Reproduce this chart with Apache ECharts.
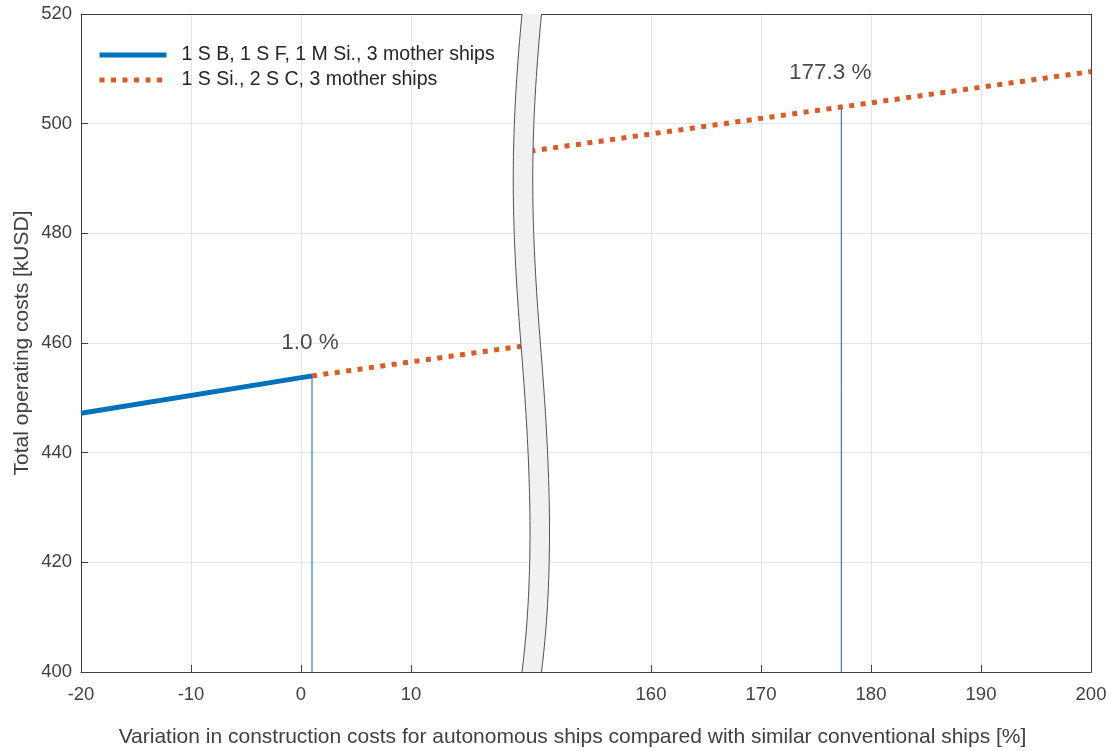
<!DOCTYPE html>
<html>
<head>
<meta charset="utf-8">
<script src="https://cdn.jsdelivr.net/npm/echarts@6/dist/echarts.min.js"></script>
<style>html,body{margin:0;padding:0;background:#fff;}#c{width:1111px;height:751px;}</style>
</head>
<body>
<div id="c"></div>
<script>
// ---- data ----
var seriesNames = ['1 S B, 1 S F, 1 M Si., 3 mother ships', '1 S Si., 2 S C, 3 mother ships'];
var blueX = [-20, 1.0];
var blueY = [447.2, 454.0];
var orangeLeftX = [1.0, 20];
var orangeLeftY = [454.0, 459.4];
var orangeRightX = [148, 200];
var orangeRightY = [494.7, 509.5];
var markX = [1.0, 177.3];
var markY = [454.0, 503.0];
var xTicksLeft = [-20, -10, 0, 10];
var xTicksRight = [160, 170, 180, 190, 200];
var yMin = 400, yMax = 520, yStep = 20;
var xLeftRange = [-20, 20];
var xRightRange = [148, 200];

function pairs(xs, ys) { return xs.map(function (x, i) { return [x, ys[i]]; }); }

var FONT = 'Liberation Sans, Arial, Helvetica, sans-serif';
var AX = '#404040';
var GRIDC = '#e5e5e5';
var BLUE = '#0072BD';
var ORANGE = '#DD5A24';
var dotted = [5, 6.5];

// ---- break band (decoration, pixel space) ----
function cubic(p0, p1, p2, p3, n) {
  var pts = [];
  for (var i = 0; i <= n; i++) {
    var t = i / n, u = 1 - t;
    pts.push([
      u*u*u*p0[0] + 3*u*u*t*p1[0] + 3*u*t*t*p2[0] + t*t*t*p3[0],
      u*u*u*p0[1] + 3*u*u*t*p1[1] + 3*u*t*t*p2[1] + t*t*t*p3[1]
    ]);
  }
  return pts;
}
var leftEdge = cubic([522,14],[510,140],[511,220],[521,345],40)
  .concat(cubic([521,345],[529,445],[536,560],[522,672],40).slice(1));
var BW = 19.5;
var rightEdge = leftEdge.map(function (p) { return [p[0] + BW, p[1]]; });
var bandPoly = leftEdge.concat(rightEdge.slice().reverse());

var chart = echarts.init(document.getElementById('c'), null, {renderer: 'canvas'});

function xAxisBottom(gridIndex, range, ticks) {
  return {
    type: 'value', gridIndex: gridIndex, position: 'bottom',
    min: range[0], max: range[1],
    axisLine: {show: true, onZero: false, lineStyle: {color: AX, width: 1}},
    axisTick: {show: true, inside: true, length: 7, customValues: ticks, lineStyle: {color: AX}},
    axisLabel: {show: true, customValues: ticks, margin: 13, color: AX, fontSize: 18.5, fontFamily: FONT},
    splitLine: {show: true, customValues: ticks, lineStyle: {color: GRIDC, width: 1}}
  };
}
function xAxisTop(gridIndex, range) {
  return {
    type: 'value', gridIndex: gridIndex, position: 'top',
    min: range[0], max: range[1],
    axisLine: {show: true, onZero: false, lineStyle: {color: AX, width: 1}},
    axisTick: {show: false}, axisLabel: {show: false}, splitLine: {show: false}
  };
}

var option = {
  animation: false,
  backgroundColor: '#ffffff',
  grid: [
    {left: 81, right: 590, top: 14, bottom: 79},
    {left: 519, right: 20, top: 14, bottom: 79}
  ],
  legend: {
    data: [
      {name: seriesNames[0], lineStyle: {width: 5, type: 'solid', color: BLUE, opacity: 1}},
      {name: seriesNames[1], lineStyle: {width: 5, type: dotted, color: ORANGE, opacity: 1}}
    ],
    orient: 'vertical',
    left: 97, top: 45, padding: 0,
    itemWidth: 67, itemHeight: 16, itemGap: 5,
    itemStyle: {opacity: 0},
    lineStyle: {width: 5, cap: 'butt'},
    textStyle: {fontSize: 19.5, fontFamily: FONT, color: '#262626', lineHeight: 16, padding: [0, 0, 0, 10]},
    selectedMode: false
  },
  xAxis: [
    xAxisBottom(0, xLeftRange, xTicksLeft),
    xAxisTop(0, xLeftRange),
    xAxisBottom(1, xRightRange, xTicksRight),
    xAxisTop(1, xRightRange)
  ],
  yAxis: [
    {
      type: 'value', gridIndex: 0, position: 'left',
      min: yMin, max: yMax, interval: yStep,
      name: 'Total operating costs [kUSD]', nameLocation: 'middle', nameGap: 48,
      nameTextStyle: {fontSize: 21, fontFamily: FONT, color: AX},
      axisLine: {show: true, onZero: false, lineStyle: {color: AX, width: 1}},
      axisTick: {show: true, inside: true, length: 7, lineStyle: {color: AX}},
      axisLabel: {margin: 9, color: AX, fontSize: 18.5, fontFamily: FONT},
      splitLine: {show: true, lineStyle: {color: GRIDC, width: 1}}
    },
    {
      type: 'value', gridIndex: 1, position: 'right',
      min: yMin, max: yMax, interval: yStep,
      axisLine: {show: true, onZero: false, lineStyle: {color: AX, width: 1}},
      axisTick: {show: false},
      axisLabel: {show: false},
      splitLine: {show: true, lineStyle: {color: GRIDC, width: 1}}
    }
  ],
  series: [
    {
      name: seriesNames[0], type: 'line', xAxisIndex: 0, yAxisIndex: 0,
      data: pairs(blueX, blueY), symbol: 'none', z: 5,
      lineStyle: {color: BLUE, width: 5, cap: 'butt'}, itemStyle: {color: BLUE}
    },
    {
      name: seriesNames[1], type: 'line', xAxisIndex: 0, yAxisIndex: 0,
      data: pairs(orangeLeftX, orangeLeftY), symbol: 'none', z: 4,
      lineStyle: {color: ORANGE, width: 5, type: dotted, cap: 'butt'}, itemStyle: {color: ORANGE}
    },
    {
      name: seriesNames[1], type: 'line', xAxisIndex: 2, yAxisIndex: 1,
      data: pairs(orangeRightX, orangeRightY), symbol: 'none', z: 4,
      lineStyle: {color: ORANGE, width: 5, type: dotted, cap: 'butt'}, itemStyle: {color: ORANGE}
    },
    {
      type: 'line', xAxisIndex: 0, yAxisIndex: 0, symbol: 'none', z: 3,
      data: [[markX[0], yMin], [markX[0], markY[0]]],
      lineStyle: {color: BLUE, width: 1}
    },
    {
      type: 'line', xAxisIndex: 2, yAxisIndex: 1, symbol: 'none', z: 3,
      data: [[markX[1], yMin], [markX[1], markY[1]]],
      lineStyle: {color: '#1d5f99', width: 1}
    },
    {
      type: 'scatter', xAxisIndex: 0, yAxisIndex: 0, symbolSize: 0, z: 6,
      data: [[markX[0], markY[0]]],
      label: {show: true, position: 'top', distance: 22.5, offset: [-2, 0],
        formatter: function (p) { return p.value[0].toFixed(1) + ' %'; },
        fontSize: 22.5, lineHeight: 22, fontFamily: FONT, color: '#1a1a1a'}
    },
    {
      type: 'scatter', xAxisIndex: 2, yAxisIndex: 1, symbolSize: 0, z: 6,
      data: [[markX[1], markY[1]]],
      label: {show: true, position: 'top', distance: 23.5, offset: [-11, 0],
        formatter: function (p) { return p.value[0].toFixed(1) + ' %'; },
        fontSize: 22.5, lineHeight: 22, fontFamily: FONT, color: '#1a1a1a'}
    }
  ],
  graphic: [
    {type: 'polygon', z: 100, silent: true, shape: {points: bandPoly}, style: {fill: '#f0f1f3', stroke: null}},
    {type: 'polyline', z: 101, silent: true, shape: {points: leftEdge}, style: {stroke: '#505050', lineWidth: 1, fill: null}},
    {type: 'polyline', z: 101, silent: true, shape: {points: rightEdge}, style: {stroke: '#505050', lineWidth: 1, fill: null}},
    {type: 'text', z: 101, silent: true, x: 572.5, y: 737,
      style: {text: 'Variation in construction costs for autonomous ships compared with similar conventional ships [%]',
        fontSize: 21, fontFamily: FONT, fill: AX, align: 'center', verticalAlign: 'middle'}}
  ]
};
chart.setOption(option);
</script>
</body>
</html>
